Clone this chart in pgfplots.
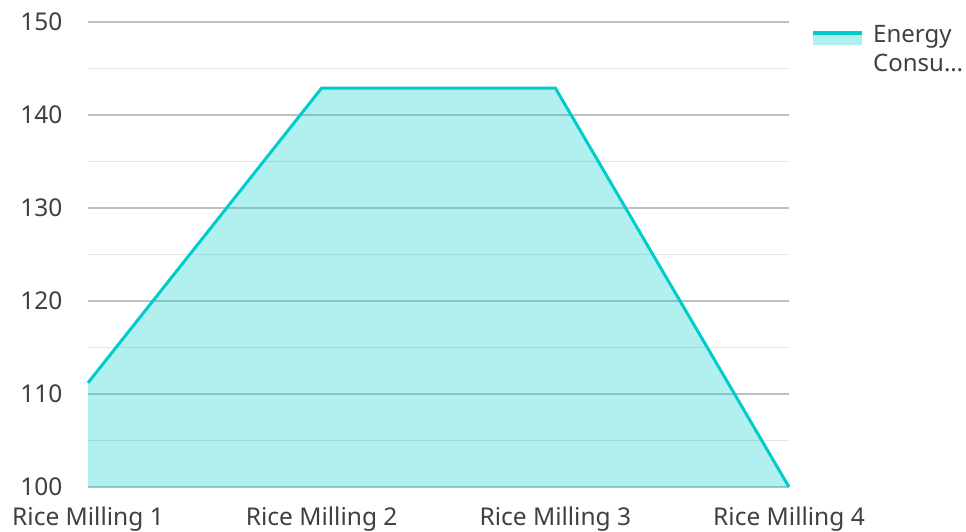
\documentclass[border=0pt]{standalone}
\usepackage{pgfplots}
\pgfplotsset{compat=1.18}
\usepackage{fontspec}
\setmainfont{Noto Sans}
\definecolor{teal1}{RGB}{0,204,204}
\definecolor{txt}{RGB}{64,64,64}
\definecolor{majg}{RGB}{192,192,192}
\definecolor{ming}{RGB}{228,228,228}
\begin{document}
\begin{tikzpicture}[x=1pt,y=1pt]
\useasboundingbox (0,0) rectangle (966,531);
\begin{axis}[
  at={(88pt,44pt)}, anchor=south west,
  scale only axis, width=701pt, height=465pt,
  xmin=0, xmax=3, ymin=100, ymax=150,
  xtick={0,1,2,3},
  xticklabels={Rice Milling 1,Rice Milling 2,Rice Milling 3,Rice Milling 4},
  ytick={100,110,120,130,140,150},
  minor ytick={105,115,125,135,145},
  axis line style={draw=none},
  major tick length=0pt, minor tick length=0pt,
  ymajorgrids, yminorgrids,
  major grid style={majg, line width=1.2pt},
  minor grid style={ming, line width=1.2pt},
  tick label style={font=\fontsize{24.5}{28}\selectfont, text=txt},
  /pgf/number format/assume math mode=true,
  yticklabel style={xshift=-22pt},
  xticklabel style={yshift=-16pt},
  clip=false,
]
\addplot[draw=none, fill=teal1, fill opacity=0.3]
  coordinates {(0,111.2) (1,142.9) (2,142.9) (3,100)} \closedcycle;
\addplot[teal1, line width=3pt]
  coordinates {(0,111.2) (1,142.9) (2,142.9) (3,100)};
\end{axis}
% legend
\fill[teal1, fill opacity=0.3] (813,485.5) rectangle (862,498);
\draw[teal1, line width=3.5pt] (813,498) -- (862,498);
\node[anchor=base west, inner sep=0pt, text=txt, font=\fontsize{24}{28}\selectfont] at (873,488) {Energy};
\node[anchor=base west, inner sep=0pt, text=txt, font=\fontsize{24}{28}\selectfont] at (873,459) {Consu…};
\end{tikzpicture}
\end{document}
